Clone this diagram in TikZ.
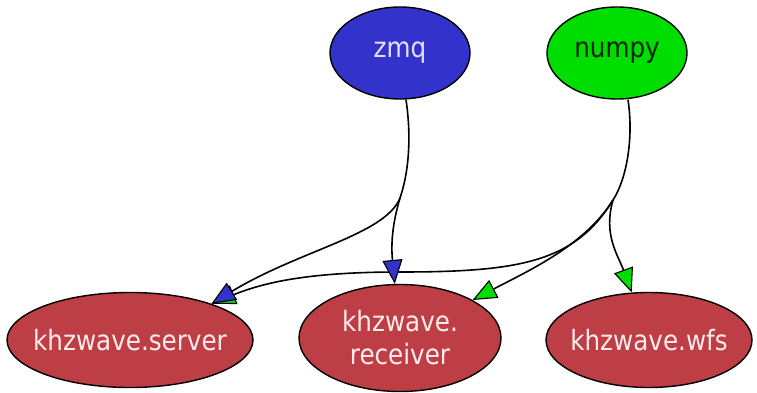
\documentclass[tikz,border=0pt]{standalone}
\usepackage{fontspec}
\setmainfont[FakeStretch=0.88]{DejaVu Sans}
\usetikzlibrary{shapes.geometric,arrows.meta}
\definecolor{zmqblue}{RGB}{51,51,204}
\definecolor{npgreen}{RGB}{0,221,0}
\definecolor{khzred}{RGB}{190,62,70}
\definecolor{lightlav}{RGB}{225,225,255}
\definecolor{pinkwhite}{RGB}{255,235,235}
\newcommand{\zw}[1]{\makebox[0pt]{#1}}
\tikzset{
  pkg/.style={ellipse, draw=black, line width=1.4pt, inner sep=0pt,
    font=\fontsize{28}{33}\selectfont, align=center},
  dep/.style={line width=1.6pt, draw=black},
  bluetip/.style={dep, -{Triangle[length=24pt,width=20pt,fill=zmqblue,line width=1.1pt]}},
  greentip/.style={dep, -{Triangle[length=24pt,width=20pt,fill=npgreen,line width=1.1pt]}}
}
\begin{document}
\begin{tikzpicture}[x=1pt,y=-1pt]
\useasboundingbox (0,0) rectangle (757,393);
\node[pkg, fill=zmqblue, text=lightlav, minimum width=140pt, minimum height=92pt] (zmq) at (400,53) {\zw{zmq}};
\node[pkg, fill=npgreen, text=black!85!green, minimum width=140pt, minimum height=92pt] (numpy) at (617,53) {\zw{numpy}};
\node[pkg, fill=khzred, text=pinkwhite, minimum width=246pt, minimum height=95pt] (server) at (130,340) {\zw{khzwave.server}};
\node[pkg, fill=khzred, text=pinkwhite, minimum width=202pt, minimum height=107pt] (receiver) at (400,338) {\zw{khzwave.}\\\zw{receiver}};
\node[pkg, fill=khzred, text=pinkwhite, minimum width=206pt, minimum height=95pt] (wfs) at (649,340) {\zw{khzwave.wfs}};
\coordinate (jz) at (400,198);
\coordinate (jn) at (613,200);
% trunks
\draw[dep] (zmq.south) ++(6,0) coordinate (zs) .. controls (412,140) and (408,175) .. (jz);
\draw[dep] (numpy.south) ++(11,0) coordinate (ns) .. controls (634,140) and (626,180) .. (jn);
% numpy branches
\draw[greentip] (jn) .. controls (575,262) and (520,272) .. (400,272) .. controls (310,272) and (265,282) .. (server.24);
\draw[greentip] (jn) .. controls (585,245) and (530,270) .. (receiver);
\draw[greentip] (jn) .. controls (603,235) and (618,255) .. (wfs);
% zmq branches
\draw[bluetip] (jz) .. controls (385,235) and (300,250) .. (server.24);
\draw[bluetip] (jz) .. controls (392,225) and (391,245) .. (receiver);
\end{tikzpicture}
\end{document}
